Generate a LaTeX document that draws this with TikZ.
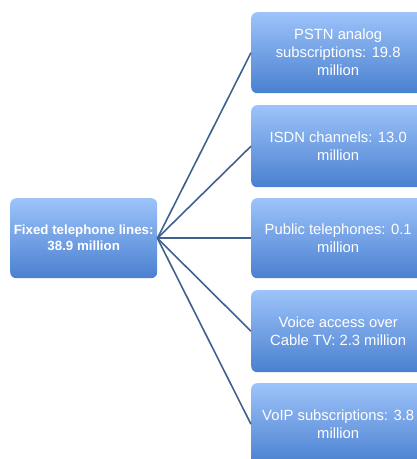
\documentclass[tikz,border=0pt]{standalone}
\usepackage{fontspec}
\setmainfont{Liberation Sans}
\definecolor{boxtop}{HTML}{9DC3FA}
\definecolor{boxbot}{HTML}{4A80D0}
\definecolor{linkcol}{HTML}{3F6190}
\tikzset{
  box/.style={rounded corners=6pt, top color=boxtop, bottom color=boxbot, draw=none,
    text=white, align=center, anchor=north west, inner sep=0pt,
    font=\fontsize{14.8}{18}\selectfont},
  link/.style={draw=linkcol, line width=1.6pt}
}
\begin{document}
\begin{tikzpicture}[x=1pt,y=-1pt]
\useasboundingbox (0,0) rectangle (417,459);
\begin{scope}
\clip (0,0) rectangle (417,459);
\node[box, minimum width=147pt, minimum height=80pt, font=\fontsize{13.3}{16}\selectfont\bfseries] (root) at (10,198) {Fixed telephone lines:\\38.9 million};
\node[box, minimum width=174pt, minimum height=81pt] (a) at (251,12) {PSTN analog\\subscriptions: 19.8\\million};
\node[box, minimum width=174pt, minimum height=82pt] (b) at (251,105) {ISDN channels: 13.0\\million};
\node[box, minimum width=174pt, minimum height=80pt] (c) at (251,198) {Public telephones: 0.1\\million};
\node[box, minimum width=174pt, minimum height=82pt] (d) at (251,290) {Voice access over\\Cable TV: 2.3 million};
\node[box, minimum width=174pt, minimum height=82pt] (e) at (251,383) {VoIP subscriptions: 3.8\\million};
\foreach \n in {a,b,c,d,e}{
  \draw[link] (root.east) -- (\n.west);
}
\end{scope}
\end{tikzpicture}
\end{document}
